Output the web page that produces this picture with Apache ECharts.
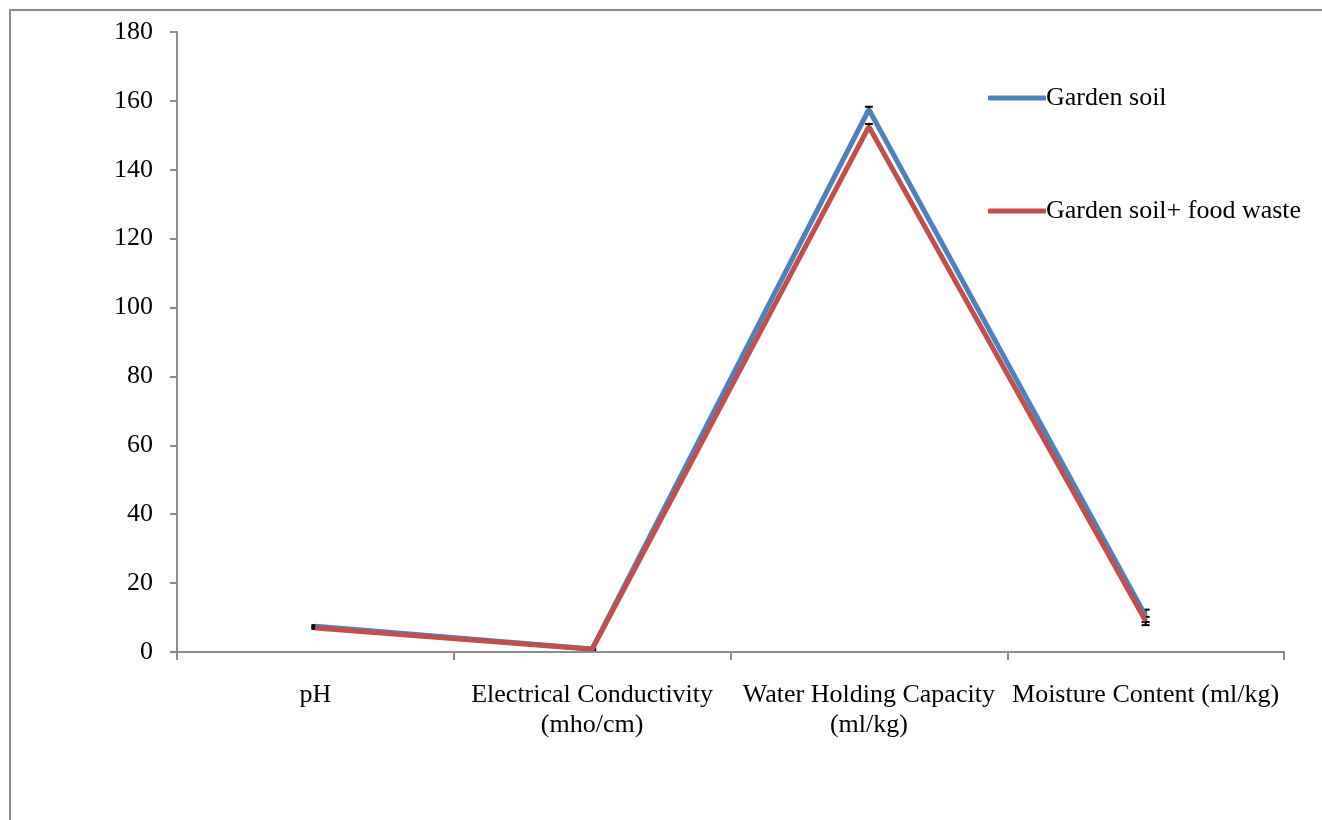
<!DOCTYPE html>
<html>
<head>
<meta charset="utf-8">
<script src="https://cdn.jsdelivr.net/npm/echarts@6/dist/echarts.min.js"></script>
<style>
html,body{margin:0;padding:0;background:#fff;}
#c{width:1322px;height:820px;}
</style>
</head>
<body>
<div id="c"></div>
<script>
var categories = ['pH', 'Electrical Conductivity\n(mho/cm)', 'Water Holding Capacity\n(ml/kg)', 'Moisture Content (ml/kg)'];
var gardenSoil = [7.5, 0.9, 157.5, 10.5];
var gardenSoilErr = [0.3, 0.2, 0.8, 1.8];
var foodWaste = [7.0, 0.8, 152.5, 9.0];
var foodWasteErr = [0.3, 0.2, 0.8, 1.2];
var yTicks = [0, 20, 40, 60, 80, 100, 120, 140, 160, 180];

var FONT = '"Liberation Serif", "Times New Roman", serif';

function errSeries(vals, errs, name) {
  var data = vals.map(function (v, i) { return [i, v - errs[i], v + errs[i]]; });
  return {
    type: 'custom',
    name: name + ' err',
    z: 1,
    silent: true,
    renderItem: function (params, api) {
      var x = api.value(0);
      var lo = api.coord([x, api.value(1)]);
      var hi = api.coord([x, api.value(2)]);
      var hw = 4;
      var st = { stroke: '#000', lineWidth: 2 };
      return {
        type: 'group',
        children: [
          { type: 'line', shape: { x1: lo[0], y1: lo[1], x2: hi[0], y2: hi[1] }, style: st },
          { type: 'line', shape: { x1: lo[0] - hw, y1: lo[1], x2: lo[0] + hw, y2: lo[1] }, style: st },
          { type: 'line', shape: { x1: hi[0] - hw, y1: hi[1], x2: hi[0] + hw, y2: hi[1] }, style: st }
        ]
      };
    },
    encode: { x: 0, y: [1, 2] },
    data: data
  };
}

var chart = echarts.init(document.getElementById('c'), null, { renderer: 'canvas' });
chart.setOption({
  animation: false,
  backgroundColor: '#fff',
  textStyle: { fontFamily: FONT },
  graphic: [{
    type: 'polyline',
    shape: { points: [[10, 830], [10, 10], [1330, 10]] },
    style: { stroke: '#8c8c8c', lineWidth: 2, fill: null },
    silent: true
  }],
  grid: { left: 177, right: 38, top: 32, bottom: 168, containLabel: false },
  legend: {
    orient: 'vertical',
    left: 988,
    top: 85,
    padding: 0,
    itemGap: 87,
    itemWidth: 58,
    itemHeight: 5,
    icon: 'roundRect',
    textStyle: { fontFamily: FONT, fontSize: 26, color: '#000', padding: [0, 0, 0, -5] },
    data: ['Garden soil', 'Garden soil+ food waste']
  },
  xAxis: {
    type: 'category',
    data: categories,
    boundaryGap: true,
    axisLine: { lineStyle: { color: '#8c8c8c', width: 2 } },
    axisTick: { show: true, length: 8, lineStyle: { color: '#8c8c8c', width: 2 }, inside: false },
    axisLabel: { color: '#000', fontSize: 26, fontFamily: FONT, margin: 28, lineHeight: 30, interval: 0 },
    splitLine: { show: false }
  },
  yAxis: {
    type: 'value',
    min: 0, max: 180, interval: 20,
    axisLine: { show: true, lineStyle: { color: '#8c8c8c', width: 2 } },
    axisTick: { show: true, length: 7, lineStyle: { color: '#8c8c8c', width: 2 } },
    axisLabel: { color: '#000', fontSize: 26, fontFamily: FONT, margin: 24,
      formatter: function (v) { return yTicks.indexOf(v) >= 0 ? String(v) : ''; } },
    splitLine: { show: false }
  },
  series: [
    errSeries(gardenSoil, gardenSoilErr, 'Garden soil'),
    errSeries(foodWaste, foodWasteErr, 'Garden soil+ food waste'),
    {
      name: 'Garden soil', type: 'line', data: gardenSoil, z: 2,
      symbol: 'none', lineStyle: { color: '#4F81BD', width: 5 }, itemStyle: { color: '#4F81BD' }
    },
    {
      name: 'Garden soil+ food waste', type: 'line', data: foodWaste, z: 3,
      symbol: 'none', lineStyle: { color: '#C0504D', width: 5 }, itemStyle: { color: '#C0504D' }
    }
  ]
});
</script>
</body>
</html>
